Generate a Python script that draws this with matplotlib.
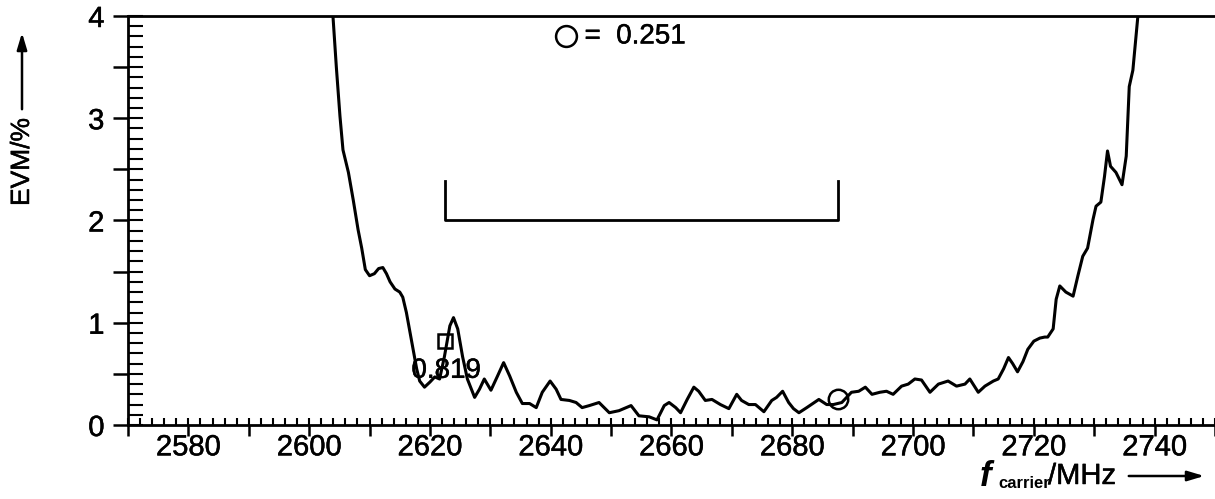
import matplotlib
matplotlib.use('Agg')
import matplotlib.pyplot as plt
import matplotlib.patheffects as pe
import numpy as np

plt.rcParams['font.family'] = ['Liberation Sans', 'DejaVu Sans']

# EVM curve
freq = [2603.6, 2604.5, 2605.1, 2605.6, 2606.5, 2607.3, 2608.1, 2608.7, 2609.3, 2610.0,
        2610.8, 2611.5, 2612.2, 2612.8, 2613.4, 2614.2, 2615.0, 2615.5, 2616.1, 2616.9,
        2617.8, 2618.3, 2619.1, 2620.0, 2620.8, 2621.6, 2622.4, 2623.3, 2623.9, 2624.6,
        2625.4, 2626.2, 2627.4, 2628.2, 2629.0, 2630.1, 2631.2, 2632.2, 2633.2, 2634.3,
        2635.3, 2636.5, 2637.6, 2638.6, 2639.9, 2640.9, 2641.7, 2643.1, 2644.2, 2645.2,
        2646.4, 2648.0, 2649.7, 2651.3, 2653.3, 2654.6, 2656.3, 2657.6, 2658.8, 2659.6,
        2660.7, 2661.5, 2662.6, 2663.7, 2664.5, 2665.6, 2666.7, 2668.1, 2669.5, 2670.8,
        2671.6, 2672.8, 2673.9, 2675.3, 2676.6, 2677.4, 2678.4, 2679.4, 2680.2, 2681.1,
        2682.4, 2684.4, 2685.7, 2686.8, 2688.2, 2689.8, 2691.0, 2692.1, 2693.2, 2694.5,
        2695.6, 2696.7, 2698.1, 2699.2, 2700.3, 2701.4, 2702.8, 2704.2, 2705.8, 2707.2,
        2708.6, 2709.4, 2710.8, 2711.9, 2713.3, 2714.1, 2715.0, 2715.8, 2716.5, 2717.3,
        2718.2, 2719.0, 2720.0, 2721.0, 2721.8, 2722.3, 2723.2, 2723.7, 2724.3, 2725.3,
        2726.5, 2727.3, 2728.1, 2728.9, 2729.8, 2730.3, 2731.1, 2731.7, 2732.2, 2732.7,
        2733.6, 2734.6, 2735.3, 2735.8, 2736.4, 2737.2, 2737.5]
evm = [4.30, 3.50, 3.02, 2.69, 2.47, 2.20, 1.91, 1.73, 1.52, 1.46,
       1.48, 1.53, 1.54, 1.48, 1.40, 1.33, 1.30, 1.25, 1.10, 0.84,
       0.55, 0.43, 0.37, 0.42, 0.47, 0.45, 0.67, 0.97, 1.05, 0.94,
       0.67, 0.45, 0.27, 0.35, 0.45, 0.34, 0.48, 0.61, 0.48, 0.32,
       0.21, 0.21, 0.17, 0.32, 0.43, 0.35, 0.25, 0.24, 0.22, 0.17,
       0.19, 0.22, 0.12, 0.14, 0.19, 0.09, 0.08, 0.05, 0.19, 0.22,
       0.17, 0.12, 0.25, 0.37, 0.33, 0.24, 0.25, 0.20, 0.16, 0.30,
       0.24, 0.20, 0.20, 0.13, 0.24, 0.27, 0.33, 0.22, 0.16, 0.12,
       0.17, 0.25, 0.20, 0.20, 0.22, 0.32, 0.33, 0.37, 0.30, 0.32,
       0.33, 0.30, 0.38, 0.40, 0.45, 0.44, 0.32, 0.40, 0.43, 0.38,
       0.40, 0.45, 0.32, 0.38, 0.43, 0.45, 0.55, 0.66, 0.60, 0.52,
       0.62, 0.74, 0.82, 0.85, 0.86, 0.86, 0.94, 1.23, 1.36, 1.30,
       1.26, 1.46, 1.65, 1.73, 2.01, 2.14, 2.18, 2.43, 2.68, 2.53,
       2.47, 2.35, 2.63, 3.31, 3.47, 3.98, 4.30]

# band bracket and marked values
band_lo, band_hi = 2622.5, 2687.5
bracket_y, bracket_top = 2.0, 2.39
sq_f, sq_val = 2622.5, 0.819
circ_f, circ_val = 2687.5, 0.251

# slightly heavier glyphs, like the original plotter font
fx = [pe.withStroke(linewidth=0.35, foreground='k')]

fig = plt.figure(figsize=(12.15, 4.99), dpi=100)
ax = fig.add_axes([128/1215, 74/499, 1 - 128/1215, 409/499])

ax.plot(freq, evm, color='k', linewidth=2.2, solid_joinstyle='round', clip_on=True)
ax.plot([band_lo, band_lo, band_hi, band_hi], [bracket_top, bracket_y, bracket_y, bracket_top],
        color='k', linewidth=2)
ax.plot([sq_f], [sq_val], marker='s', markersize=10, mfc='none', mec='k', mew=1.8)
ax.plot([circ_f], [circ_val], marker='o', markersize=14, mfc='none', mec='k', mew=1.8)
ax.text(sq_f + 0.2, 0.53, '%.3f' % sq_val, fontsize=20, ha='center', va='center', path_effects=fx)

# legend-like note at top
ax.plot([2642.6], [3.80], marker='o', markersize=15, mfc='none', mec='k', mew=1.8, clip_on=False)
ax.text(2645.6, 3.80, '=  %.3f' % circ_val, fontsize=20, ha='left', va='center', path_effects=fx)

ax.set_xlim(2570, 2750)
ax.set_ylim(0, 4)

ax.spines['right'].set_visible(False)
for s in ['left', 'bottom', 'top']:
    ax.spines[s].set_linewidth(2)

ax.xaxis.set_major_locator(plt.MultipleLocator(10))
ax.xaxis.set_minor_locator(plt.MultipleLocator(2))
ax.xaxis.set_major_formatter(plt.FuncFormatter(lambda v, p: '%d' % v if round(v) % 20 == 0 else ''))
ax.yaxis.set_major_locator(plt.MultipleLocator(0.5))
ax.yaxis.set_minor_locator(plt.MultipleLocator(0.1))
ax.yaxis.set_major_formatter(plt.FuncFormatter(lambda v, p: '%d' % v if abs(v - round(v)) < 1e-6 else ''))
ax.xaxis.remove_overlapping_locs = False
ax.yaxis.remove_overlapping_locs = False

ax.tick_params(axis='x', which='major', direction='out', length=8, width=1.8, labelsize=21, pad=-2)
ax.tick_params(axis='x', which='minor', direction='in', length=5, width=1.5)
ax.tick_params(axis='y', which='major', direction='out', length=11, width=1.8, labelsize=21, pad=6)
ax.tick_params(axis='y', which='minor', direction='in', length=11, width=1.5)
for lab in ax.get_xticklabels() + ax.get_yticklabels():
    lab.set_path_effects(fx)

# axis labels with arrows
fig.text(22/1215, 1 - 162/499, 'EVM/%', rotation=90, fontsize=19, ha='center', va='center',
         path_effects=fx)
fig.add_artist(matplotlib.patches.FancyArrowPatch((22/1215, 1 - 112/499), (22/1215, 1 - 30/499),
               transform=fig.transFigure, arrowstyle='-|>,head_length=10,head_width=3',
               color='k', linewidth=1.8))

fig.text(980/1215, 1 - 486/499, 'f', fontsize=25, fontweight='bold', fontstyle='italic', va='baseline')
fig.text(998/1215, 1 - 488/499, 'carrier', fontsize=12, fontweight='bold', va='baseline')
fig.text(1048/1215, 1 - 484/499, '/MHz', fontsize=21, va='baseline', path_effects=fx)
fig.add_artist(matplotlib.patches.FancyArrowPatch((1126/1215, 1 - 476/499), (1207/1215, 1 - 476/499),
               transform=fig.transFigure, arrowstyle='-|>,head_length=10,head_width=3',
               color='k', linewidth=1.8))

fig.savefig('out.png', dpi=100)
